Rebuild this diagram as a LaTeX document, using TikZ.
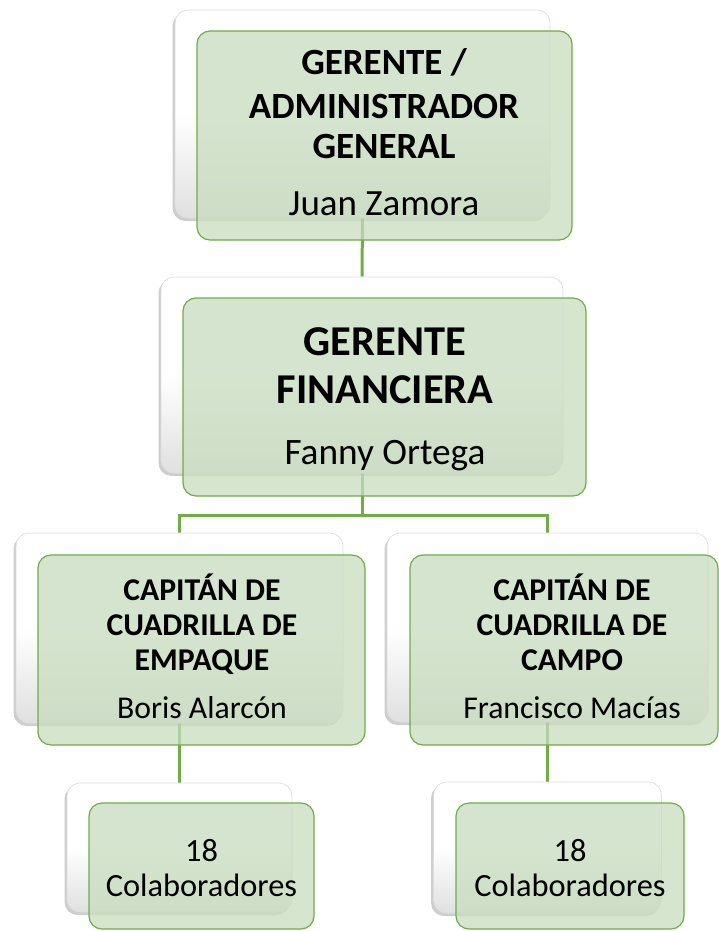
\documentclass[tikz,border=0pt]{standalone}
\usepackage{fontspec}
\setmainfont{Carlito}
\usetikzlibrary{shadows,backgrounds}
\definecolor{lgreen}{RGB}{112,173,71}
\definecolor{gfill}{RGB}{200,220,190}
\definecolor{wbot}{RGB}{224,224,224}
\tikzset{
  wbox/.style={rectangle, rounded corners=13pt, draw=black!13, line width=0.7pt, inner sep=0pt,
    top color=white, bottom color=wbot, middle color=white,
    drop shadow={shadow xshift=-2.5pt, shadow yshift=-3pt, opacity=0.35, fill=black!55}},
  gbox/.style={rectangle, rounded corners=13pt, draw=lgreen, line width=1.2pt,
    fill=gfill, fill opacity=0.75, inner sep=0pt},
  conn/.style={draw=lgreen, line width=3pt},
  tA/.style={anchor=base, inner sep=0pt, font=\fontsize{37}{44}\selectfont\bfseries},
  nA/.style={anchor=base, inner sep=0pt, font=\fontsize{37}{44}\selectfont},
  tB/.style={anchor=base, inner sep=0pt, font=\fontsize{42.5}{50}\selectfont\bfseries},
  nB/.style={anchor=base, inner sep=0pt, font=\fontsize{37.3}{44}\selectfont},
  tC/.style={anchor=base, inner sep=0pt, font=\fontsize{31.7}{38}\selectfont\bfseries},
  nC/.style={anchor=base, inner sep=0pt, font=\fontsize{31.7}{38}\selectfont},
  nD/.style={anchor=base, inner sep=0pt, font=\fontsize{32.4}{39}\selectfont}
}
\begin{document}
\begin{tikzpicture}[x=1pt,y=-1pt]
\useasboundingbox (0,0) rectangle (719,931);
% white boxes
\node[wbox, minimum width=375pt, minimum height=208pt] (w1) at (362.5,114) {};
\node[wbox, minimum width=402pt, minimum height=196pt] (w2) at (362,375) {};
\node[wbox, minimum width=327pt, minimum height=190pt] (w3l) at (179.5,628) {};
\node[wbox, minimum width=321pt, minimum height=189pt] (w3r) at (547.5,627.5) {};
\node[wbox, minimum width=225pt, minimum height=129pt] (w4l) at (179.5,847.5) {};
\node[wbox, minimum width=228pt, minimum height=131pt] (w4r) at (547.5,847.5) {};
\coordinate (bus) at (362,515);
% connectors under the boxes
\begin{pgfonlayer}{background}
\draw[conn] (w1.south) -- (w2.north);
\draw[conn] (w2.south) -- (bus);
\draw[conn] (w3l.north) |- (bus) -| (w3r.north);
\draw[conn] (w3l.south) -- (w4l.north);
\draw[conn] (w3r.south) -- (w4r.north);
\end{pgfonlayer}
% green boxes
\node[gbox, minimum width=375pt, minimum height=209pt] (g1) at (384.5,135.5) {};
\node[gbox, minimum width=403pt, minimum height=198pt] (g2) at (384.5,397) {};
\node[gbox, minimum width=327pt, minimum height=190pt] (g3l) at (201.5,650) {};
\node[gbox, minimum width=308pt, minimum height=190pt] (g3r) at (564,650) {};
\node[gbox, minimum width=225pt, minimum height=126pt] (g4l) at (201.5,866) {};
\node[gbox, minimum width=228pt, minimum height=126pt] (g4r) at (570,866) {};
% texts
\node[tA] (t1a) at (384,75) {GERENTE /};
\node[tA] (t1b) at (384,118) {ADMINISTRADOR};
\node[tA] (t1c) at (384,158) {GENERAL};
\node[nA] (t1d) at (384,215) {Juan Zamora};
\node[tB] (t2a) at (385,355) {GERENTE};
\node[tB] (t2b) at (385,403) {FINANCIERA};
\node[nB] (t2c) at (385,464) {Fanny Ortega};
\node[tC] (t3a) at (202,600) {CAPITÁN DE};
\node[tC] (t3b) at (202,635) {CUADRILLA DE};
\node[tC] (t3c) at (202,670) {EMPAQUE};
\node[nC] (t3d) at (202,718) {Boris Alarcón};
\node[tC] (t3e) at (572,600) {CAPITÁN DE};
\node[tC] (t3f) at (572,635) {CUADRILLA DE};
\node[tC] (t3g) at (572,670) {CAMPO};
\node[nC] (t3h) at (572,718) {Francisco Macías};
\node[nD] (t4a) at (201.5,861) {18};
\node[nD] (t4b) at (201.5,896) {Colaboradores};
\node[nD] (t4c) at (570,861) {18};
\node[nD] (t4d) at (570,896) {Colaboradores};
\end{tikzpicture}
\end{document}
